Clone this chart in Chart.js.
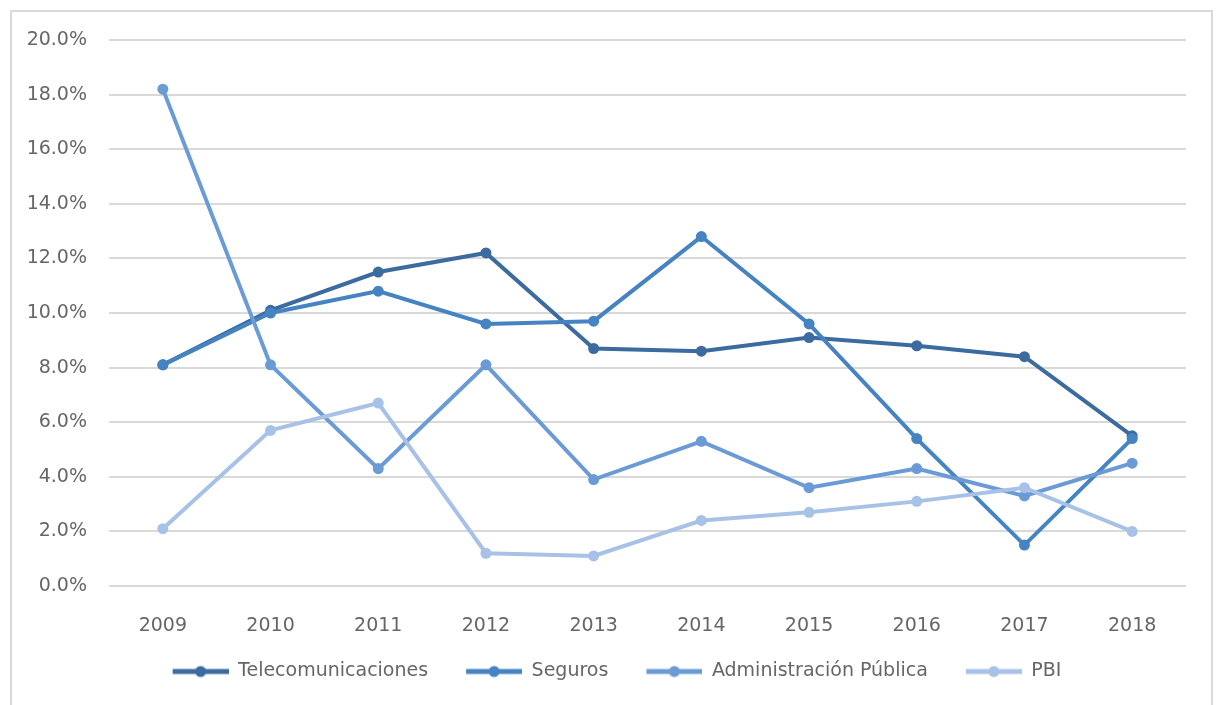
<!DOCTYPE html>
<html>
<head>
<meta charset="utf-8">
<script src="https://cdn.jsdelivr.net/npm/chart.js@4/dist/chart.umd.min.js"></script>
<style>
  html, body { margin: 0; padding: 0; background: #ffffff; }
  #wrap { position: relative; width: 1220px; height: 705px; }
  #frame { position: absolute; left: 10px; top: 10px; width: 1203px; height: 720px; border: 2px solid #d9d9d9; box-sizing: border-box; }
  canvas { position: absolute; left: 0; top: 0; }
</style>
</head>
<body>
<div id="wrap">
  <div id="frame"></div>
  <canvas id="c" width="1220" height="705"></canvas>
</div>
<script>
const categories = ['2009','2010','2011','2012','2013','2014','2015','2016','2017','2018'];
const seriesNames = ['Telecomunicaciones','Seguros','Administración Pública','PBI'];
const telecomunicaciones = [8.1, 10.1, 11.5, 12.2, 8.7, 8.6, 9.1, 8.8, 8.4, 5.5];
const seguros = [8.1, 10.0, 10.8, 9.6, 9.7, 12.8, 9.6, 5.4, 1.5, 5.4];
const administracionPublica = [18.2, 8.1, 4.3, 8.1, 3.9, 5.3, 3.6, 4.3, 3.3, 4.5];
const pbi = [2.1, 5.7, 6.7, 1.2, 1.1, 2.4, 2.7, 3.1, 3.6, 2.0];
const yTicks = [0, 2, 4, 6, 8, 10, 12, 14, 16, 18, 20];

const colors = ['#3c6b9f', '#4583c3', '#6a9bd6', '#a8c2e7'];
const values = [telecomunicaciones, seguros, administracionPublica, pbi];

const ICON_GAP = 28;
function legendIcon(color) {
  const cv = document.createElement('canvas');
  cv.width = 56 + ICON_GAP; cv.height = 14;
  const g = cv.getContext('2d');
  g.strokeStyle = color; g.lineWidth = 5;
  g.beginPath(); g.moveTo(ICON_GAP, 7); g.lineTo(ICON_GAP + 56, 7); g.stroke();
  g.fillStyle = color;
  g.beginPath(); g.arc(ICON_GAP + 28, 7, 5.5, 0, Math.PI * 2); g.fill();
  return cv;
}
const icons = colors.map(legendIcon);

const FONT = 'DejaVu Sans';
const TEXT = '#666666';

new Chart(document.getElementById('c'), {
  type: 'line',
  data: {
    labels: categories,
    datasets: seriesNames.map((name, i) => ({
      label: name,
      data: values[i],
      borderColor: colors[i],
      backgroundColor: colors[i],
      borderWidth: 4,
      pointRadius: 5.5,
      pointHoverRadius: 5.5,
      pointBorderWidth: 0,
      tension: 0,
      order: 4 - i
    }))
  },
  options: {
    responsive: false,
    animation: false,
    layout: { padding: { left: 20, right: 34, top: 40, bottom: 14 } },
    plugins: {
      tooltip: { enabled: false },
      legend: {
        position: 'bottom',
        labels: {
          font: { family: FONT, size: 19 },
          color: TEXT,
          padding: 10,
          usePointStyle: true,
          pointStyleWidth: 56 + ICON_GAP,
          generateLabels: (chart) => seriesNames.map((name, i) => ({
            text: name,
            fillStyle: colors[i],
            strokeStyle: colors[i],
            lineWidth: 0,
            pointStyle: icons[i],
            datasetIndex: i,
            fontColor: TEXT,
            hidden: false
          }))
        }
      }
    },
    scales: {
      x: {
        offset: true,
        grid: { display: false },
        border: { display: false },
        ticks: { font: { family: FONT, size: 19 }, color: TEXT, padding: 21, maxRotation: 0 },
        afterFit: (s) => { s.height = 66; }
      },
      y: {
        min: 0, max: 20,
        afterBuildTicks: (s) => { s.ticks = yTicks.map(v => ({ value: v })); },
        grid: { color: '#d9d9d9', lineWidth: 2, drawTicks: false },
        border: { display: false },
        ticks: {
          font: { family: FONT, size: 19 }, color: TEXT, padding: 22,
          callback: (v) => v.toFixed(1) + '%'
        },
        afterFit: (s) => { s.width = 89; }
      }
    }
  }
});
</script>
</body>
</html>
